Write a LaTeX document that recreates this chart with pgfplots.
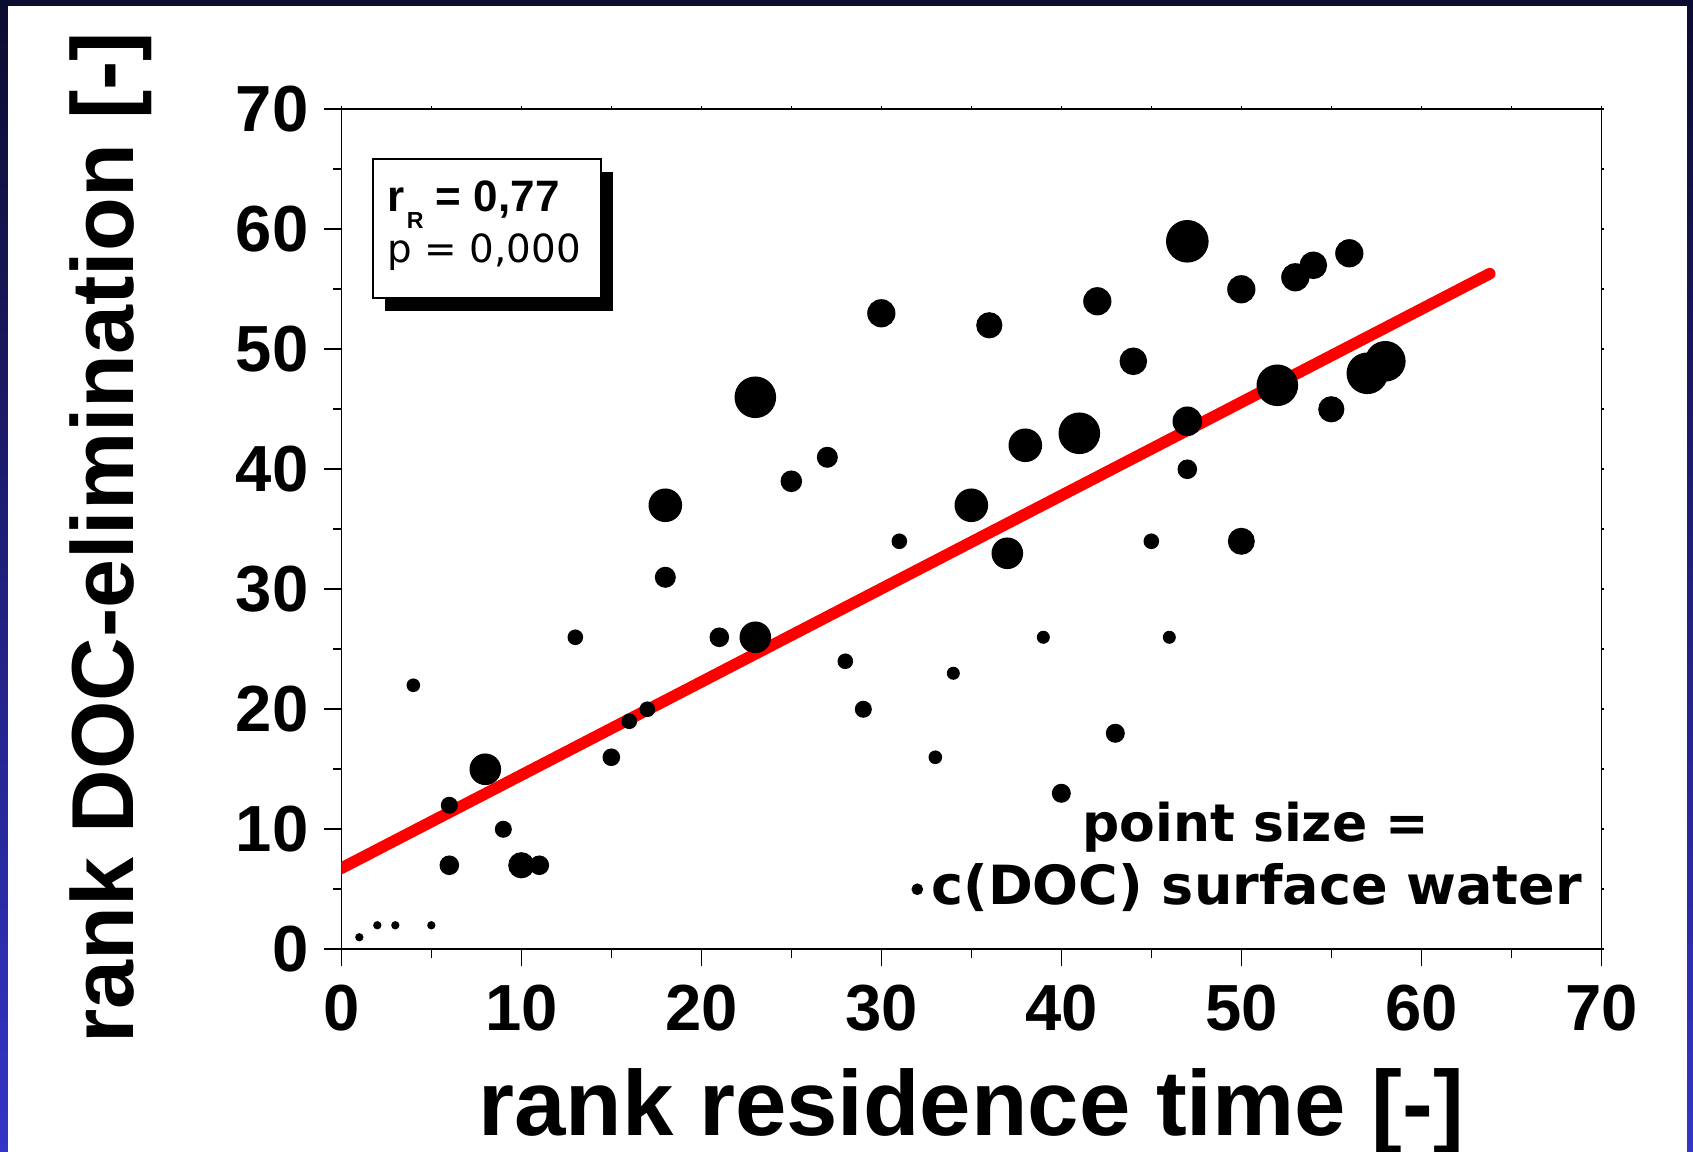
\documentclass[border=0pt]{standalone}
\usepackage{fontspec}
\setmainfont{Liberation Sans}
\newfontfamily\dejavu{DejaVu Sans}
\usepackage{pgfplots}
\usepackage{pgfplotstable}
\pgfplotsset{compat=1.18}
\usetikzlibrary{shadows}

\definecolor{bgtop}{RGB}{12,12,48}
\definecolor{bgbot}{RGB}{52,52,200}

% rank residence time, rank DOC elimination, point radius (px)
\pgfplotstableread{
x  y  r
1  1  3.3
2  2  3.3
3  2  3.3
5  2  3.3
4  22 6
6  12 7.7
6  7  9
8  15 15
9  10 7.7
10 7  12.3
11 7  9
13 26 7
15 16 8
16 19 7
17 20 7
18 31 9.7
18 37 16
21 26 9
23 26 15
23 46 20
25 39 10
27 41 9.7
28 24 7
29 20 7.7
30 53 13.3
31 34 7
33 16 6
34 23 5.7
35 37 16
36 52 12.3
37 33 15
38 42 16
39 26 5.7
40 13 8.7
41 43 20
42 54 13.3
43 18 8.7
44 49 13
45 34 7
46 26 5.7
47 59 20.5
47 44 14
47 40 9
50 55 13.3
50 34 12.7
52 47 20
53 56 13.3
54 57 13
55 45 12.3
56 58 13.3
57 48 20
58 49 19.5
}\pts

\begin{document}
\begin{tikzpicture}
\shade[top color=bgtop, bottom color=bgbot] (0,0) rectangle (423.25pt,288pt);
\fill[white] (2pt,0) rectangle (421.75pt,286.5pt);
\useasboundingbox (0,0) rectangle (423.25pt,288pt);

% tiny ticks on top and right
\begin{axis}[
  at={(85.33pt,50.68pt)}, anchor=south west,
  scale only axis, width=315pt, height=210pt,
  xmin=0, xmax=70, ymin=0, ymax=70,
  xtick={0,5,...,70}, ytick={0,5,...,70},
  xticklabels={}, yticklabels={},
  xtick pos=right, ytick pos=right,
  tick align=outside, major tick length=0.7pt,
  axis line style={line width=0.4pt},
  every tick/.style={black, line width=0.4pt},
]
\end{axis}

\begin{axis}[
  at={(85.33pt,50.68pt)}, anchor=south west,
  scale only axis, width=315pt, height=210pt,
  xmin=0, xmax=70, ymin=0, ymax=70,
  xtick={0,10,...,70}, ytick={0,10,...,70},
  minor tick num=1,
  xtick pos=left, ytick pos=left,
  tick align=outside,
  major tick length=4.3pt, minor tick length=2.1pt,
  axis line style={line width=0.4pt},
  every tick/.style={black, line width=0.4pt},
  /pgf/number format/assume math mode=true,
  ticklabel style={font=\bfseries\fontsize{16.3}{19}\selectfont, inner sep=0pt},
  yticklabel shift=3.7pt,
  xticklabel shift=4.5pt,
  xlabel={rank residence time [-]},
  ylabel={rank DOC-elimination [-]},
  xlabel style={font=\bfseries\fontsize{23.1}{26}\selectfont, at={(axis description cs:0.5,-0.2223)}, anchor=base},
  ylabel style={font=\bfseries\fontsize{22}{26}\selectfont, at={(axis description cs:-0.1653,0.49)}, anchor=base},
]
\addplot[scatter, only marks, mark=*,
  scatter/use mapped color={draw=black, fill=black},
  visualization depends on={0.25*\thisrow{r} \as \ps},
  scatter/@pre marker code/.append style={/tikz/mark size=\ps}]
  table[x=x, y=y] {\pts};
\addplot[only marks, mark=*, black, mark size=1.25pt] coordinates {(32,5)};
\addplot[red, line width=2.9pt, line cap=round] coordinates {(0,6.75) (63.8,56.3)};

\node[draw=black, line width=0.4pt, fill=white, minimum width=57pt, minimum height=34.75pt,
  anchor=north west, inner sep=0pt,
  drop shadow={shadow xshift=3.1pt, shadow yshift=-3.4pt, opacity=1, fill=black}]
  at (rel axis cs:0.0244,0.942) {};
\node[anchor=base west, inner sep=0pt] at (rel axis cs:0.0363,0.8781)
  {\bfseries\fontsize{11}{12}\selectfont r\kern0.5pt\raisebox{-4.3pt}{\fontsize{5.8}{6}\selectfont R} = 0,77};
\node[anchor=base west, inner sep=0pt] at (rel axis cs:0.0363,0.8179)
  {\dejavu\fontsize{9.7}{12}\selectfont p = 0,000};

\node[anchor=base, inner sep=0pt] at (axis cs:50.8,8.97)
  {\dejavu\bfseries\fontsize{13}{15}\selectfont point size =};
\node[anchor=base, inner sep=0pt] at (axis cs:50.85,3.69)
  {\dejavu\bfseries\fontsize{13.5}{15}\selectfont c(DOC) surface water};
\end{axis}
\end{tikzpicture}
\end{document}
